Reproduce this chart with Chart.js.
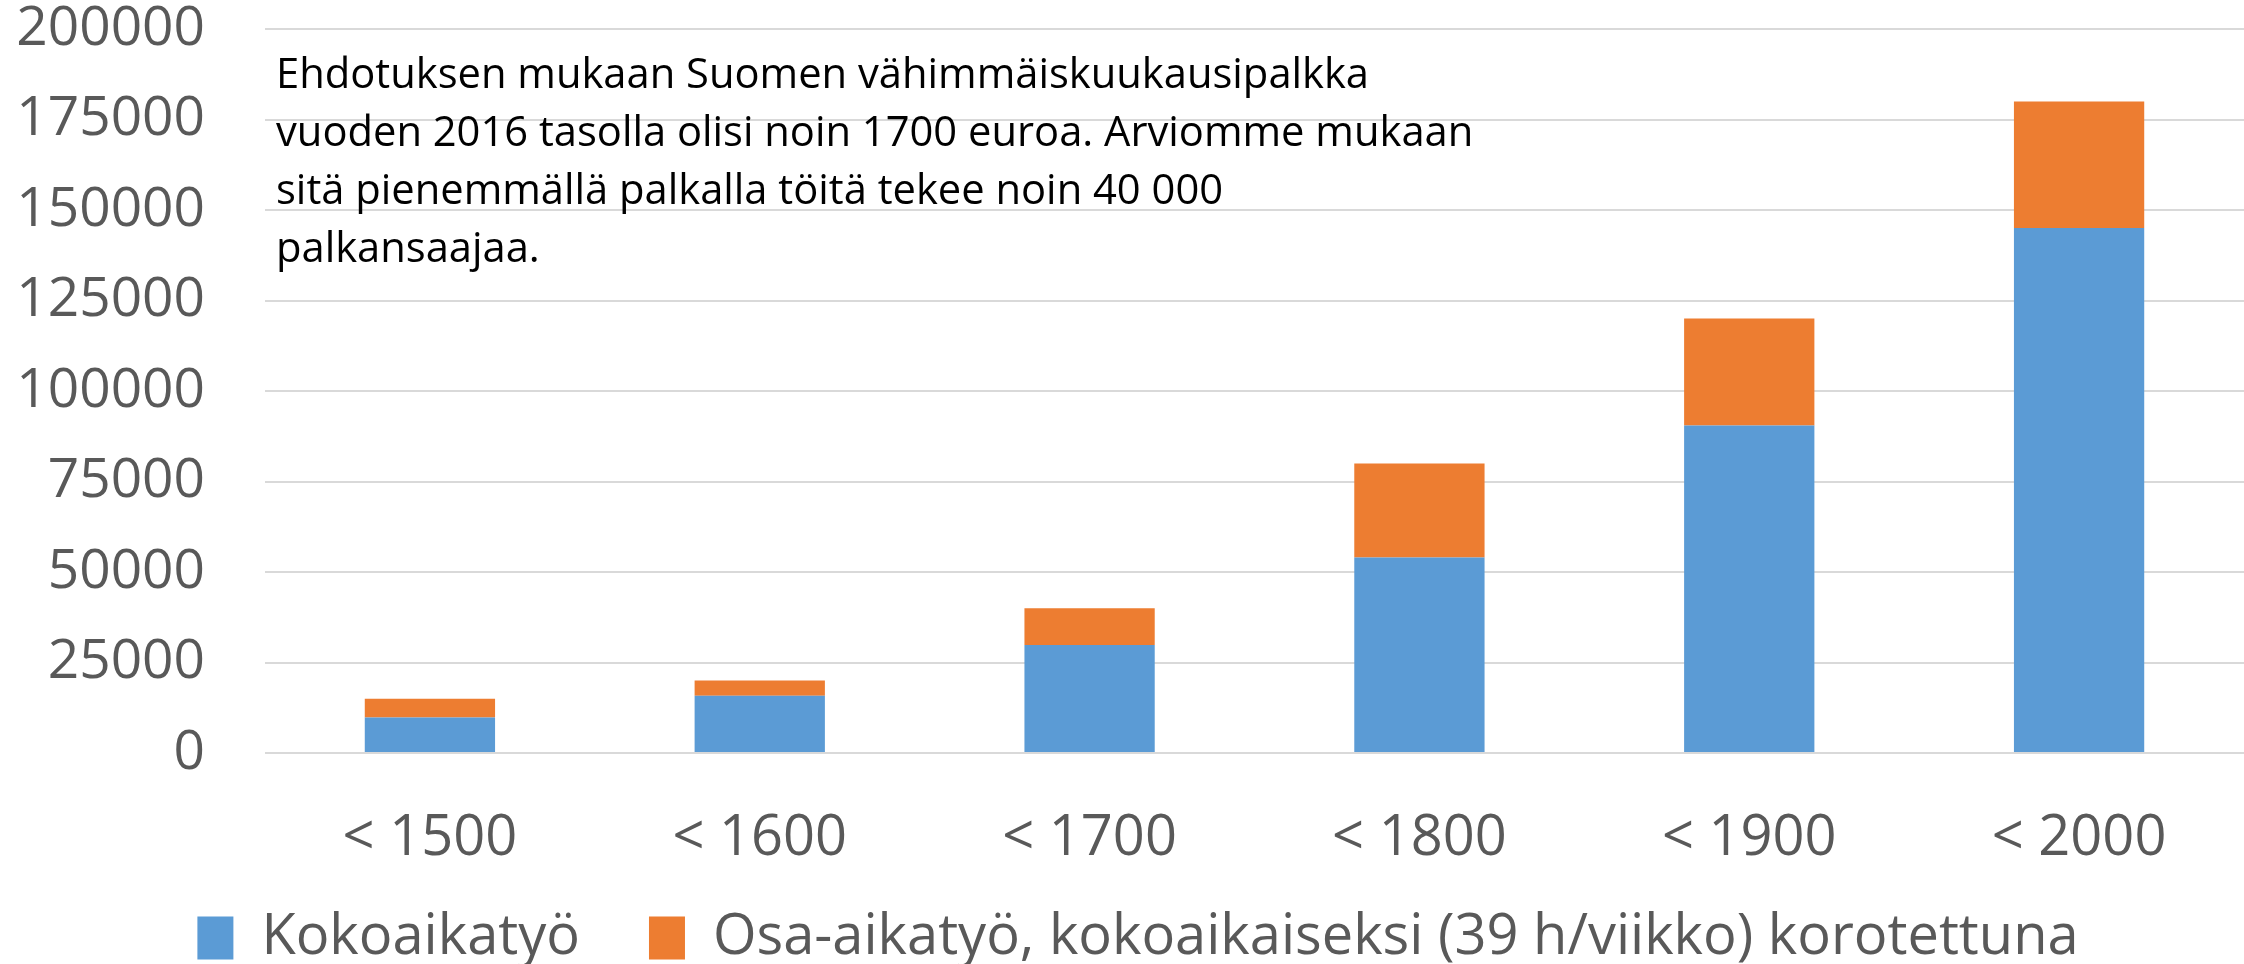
<!DOCTYPE html>
<html>
<head>
<meta charset="utf-8">
<script src="https://cdn.jsdelivr.net/npm/chart.js@4/dist/chart.umd.min.js"></script>
<style>
  html, body { margin: 0; padding: 0; background: #fff; }
  #wrap { position: relative; width: 2244px; height: 964px; }
  #note {
    position: absolute; left: 276px; top: 43px;
    font-family: "Open Sans", sans-serif; font-size: 41.7px; line-height: 58px;
    color: #000;
  }
</style>
</head>
<body>
<div id="wrap">
  <canvas id="chart"></canvas>
  <div id="note">Ehdotuksen mukaan Suomen vähimmäiskuukausipalkka<br>vuoden 2016 tasolla olisi noin 1700 euroa. Arviomme mukaan<br>sitä pienemmällä palkalla töitä tekee noin 40 000<br>palkansaajaa.</div>
</div>
<script>
const LABELS = ["< 1500", "< 1600", "< 1700", "< 1800", "< 1900", "< 2000"];
const FULL_TIME = [9800, 15800, 29800, 54000, 90500, 145000];
const PART_TIME = [5200, 4200, 10200, 26000, 29500, 35000];
const SERIES_NAMES = ["Kokoaikatyö", "Osa-aikatyö, kokoaikaiseksi (39 h/viikko) korotettuna"];
const Y_TICKS = [0, 25000, 50000, 75000, 100000, 125000, 150000, 175000, 200000];

const TEXT = "#595959";
const FONT = "'Open Sans', sans-serif";
const LEGEND_PAD = 69;

// legend padding is wide (gap between items), so pin its box and move it a bit
const legendBox = {
    id: "legendBox",
    beforeLayout(chart) {
        const lg = chart.legend;
        if (lg && !lg._pinned) {
            const fit = lg.fit;
            lg.fit = function () { fit.call(this); this.height = 96; };
            lg._pinned = true;
        }
    },
    afterLayout(chart) {
        const lg = chart.legend;
        if (!lg) return;
        lg.top = 938 - LEGEND_PAD - 28;
        lg.bottom = chart.height;
        lg.height = lg.bottom - lg.top;
        lg.left += 16;
        lg.right += 16;
    }
};

new Chart(document.getElementById("chart"), {
    type: "bar",
    data: {
        labels: LABELS,
        datasets: [
            { label: SERIES_NAMES[0], data: FULL_TIME, backgroundColor: "#5B9BD5", borderWidth: 0 },
            { label: SERIES_NAMES[1], data: PART_TIME, backgroundColor: "#ED7D31", borderWidth: 0 }
        ]
    },
    options: {
        responsive: true,
        maintainAspectRatio: false,
        animation: false,
        layout: { padding: 0 },
        datasets: { bar: { categoryPercentage: 1, barPercentage: 0.395 } },
        plugins: {
            legend: {
                position: "bottom",
                labels: {
                    color: TEXT,
                    font: { family: FONT, size: 56 },
                    boxWidth: 36,
                    boxHeight: 43,
                    padding: LEGEND_PAD
                }
            },
            tooltip: { enabled: false }
        },
        scales: {
            x: {
                stacked: true,
                grid: { display: false, drawTicks: false },
                border: { display: false },
                ticks: { color: TEXT, font: { family: FONT, size: 56 }, padding: 52 },
                afterFit: s => { s.height = 115; }
            },
            y: {
                stacked: true,
                min: 0,
                max: 200000,
                afterBuildTicks: s => { s.ticks = Y_TICKS.map(v => ({ value: v })); },
                grid: { color: "#d9d9d9", lineWidth: 2, drawTicks: false },
                border: { display: false },
                ticks: {
                    color: TEXT,
                    font: { family: FONT, size: 55, lineHeight: 1 },
                    padding: 60,
                    callback: v => String(v)
                },
                afterFit: s => {
                    s.width = 265;
                    s.paddingTop = 29;
                    s.paddingBottom = 29;
                }
            }
        }
    },
    plugins: [legendBox]
});
</script>
</body>
</html>
